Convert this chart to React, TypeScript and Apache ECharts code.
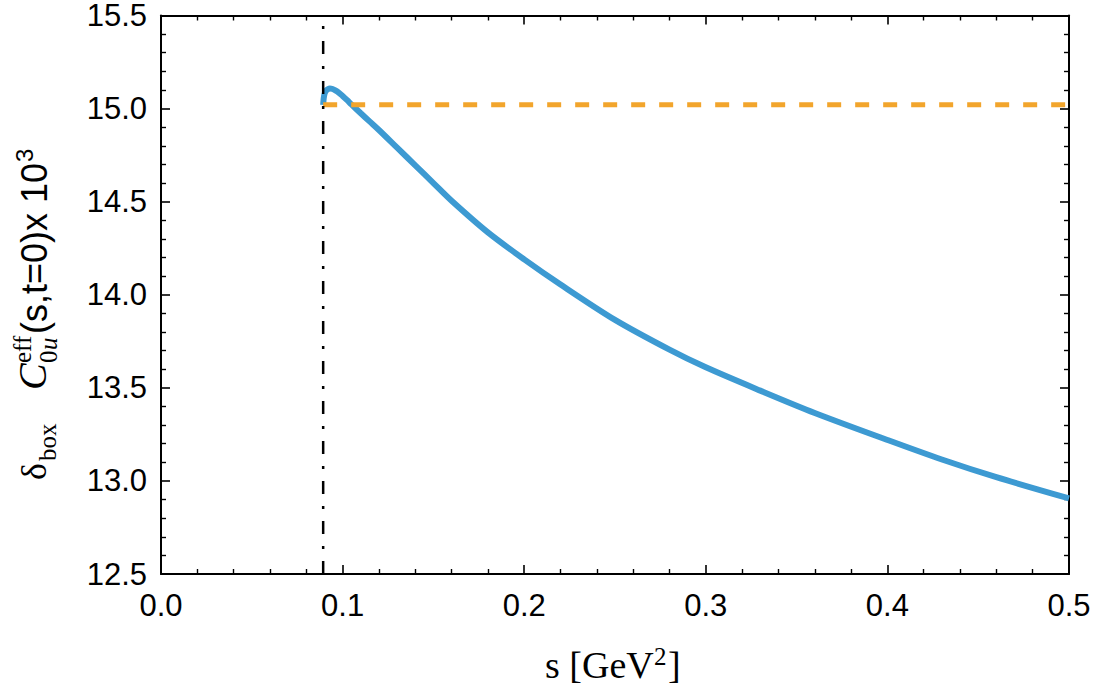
import React, { useEffect, useRef } from "react";
import * as echarts from "echarts";

const sValues = [0.0893, 0.0896, 0.0901, 0.091, 0.092, 0.093, 0.0945, 0.096, 0.098, 0.1, 0.1025, 0.105, 0.11, 0.115, 0.12, 0.13, 0.14, 0.15, 0.16, 0.18, 0.2, 0.22, 0.25, 0.28, 0.3, 0.33, 0.36, 0.4, 0.43, 0.46, 0.5];
const cValues = [15.02, 15.055, 15.08, 15.097, 15.105, 15.108, 15.105, 15.098, 15.085, 15.068, 15.045, 15.021, 14.975, 14.93, 14.885, 14.79, 14.695, 14.6, 14.505, 14.335, 14.19, 14.055, 13.865, 13.705, 13.61, 13.485, 13.365, 13.22, 13.115, 13.02, 12.906];
const thresholdS = 0.0893;
const asymptote = 15.02;
const xTicks = { min: 0, max: 0.5, interval: 0.1 };
const yTicks = { min: 12.5, max: 15.5, interval: 0.5 };

export default function App() {
  const ref = useRef<HTMLDivElement>(null);
  useEffect(() => {
    const chart = echarts.init(ref.current!, undefined, { renderer: "svg" });
    const sans = "Liberation Sans, Arial, sans-serif";
    const serif = "Liberation Serif, DejaVu Serif, serif";
    const axisCommon = {
      axisLine: { show: true, onZero: false, lineStyle: { color: "#000", width: 2 } },
      axisTick: { show: true, inside: true, length: 9, lineStyle: { color: "#000", width: 1.6 } },
      minorTick: { show: true, splitNumber: 5, length: 5, lineStyle: { color: "#000", width: 1.4 } },
      splitLine: { show: false },
    };
    const xAx = (pos: string, labels: boolean) => ({
      type: "value", position: pos, ...xTicks, ...axisCommon,
      axisLabel: { show: labels, color: "#000", fontFamily: sans, fontSize: 31, margin: 16, formatter: (v: number) => v.toFixed(1) },
    });
    const yAx = (pos: string, labels: boolean) => ({
      type: "value", position: pos, ...yTicks, ...axisCommon,
      axisLabel: { show: labels, color: "#000", fontFamily: sans, fontSize: 31, margin: 14, formatter: (v: number) => v.toFixed(1) },
    });
    const T = (text: string, x: number, y: number, font: string, size: number, italic = false) => ({
      type: "text", x, y,
      style: { text, fill: "#000", font: `${italic ? "italic " : ""}${size}px ${font}`, textAlign: "left", textVerticalAlign: "bottom", verticalAlign: "bottom" },
    });
    chart.setOption({
      animation: false,
      grid: { left: 161, right: 25, top: 15, bottom: 120 },
      xAxis: [xAx("bottom", true), xAx("top", false)],
      yAxis: [yAx("left", true), yAx("right", false)],
      series: [
        {
          type: "line", data: sValues.map((s, i) => [s, cValues[i]]), smooth: 0.3, symbol: "none",
          lineStyle: { color: "#3D9AD2", width: 6 }, z: 2,
        },
        {
          type: "line", data: [[thresholdS, asymptote], [xTicks.max, asymptote]], symbol: "none",
          lineStyle: { color: "#F2A52C", width: 5, type: [14, 14] }, z: 3,
        },
        {
          type: "line", data: [[thresholdS, yTicks.min], [thresholdS, yTicks.max]], symbol: "none",
          lineStyle: { color: "#000", width: 2.5, type: [13, 12, 3, 12] }, z: 4,
        },
      ],
      graphic: [
        {
          type: "group", x: 52, y: 480, rotation: Math.PI / 2,
          children: [
            T("δ", 0, 0, serif, 36),
            T("box", 19, 8, serif, 25),
            T("C", 90, 0, serif, 40, true),
            T("eff", 117, -17, serif, 25),
            T("0", 117, 9, serif, 25),
            T("u", 130, 9, serif, 25, true),
            T("(s,t=0)x 10", 146, 0, sans, 36),
            T("3", 318, -16, sans, 24),
          ],
        },
        {
          type: "group", x: 545, y: 684,
          children: [
            T("s [GeV", 0, 0, serif, 38),
            T("2", 109, -15, serif, 25),
            T("]", 123, 0, serif, 38),
          ],
        },
      ],
    });
    return () => chart.dispose();
  }, []);
  return <div ref={ref} style={{ position: "fixed", left: 0, top: 0, width: 1094, height: 694, background: "#fff" }} />;
}
